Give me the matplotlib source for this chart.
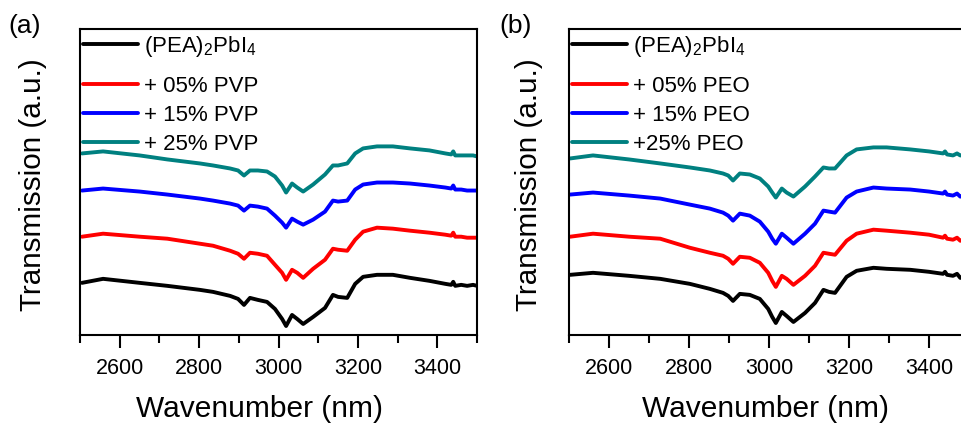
import matplotlib.pyplot as plt
from matplotlib.ticker import MultipleLocator

plt.rcParams['font.family'] = ['Liberation Sans', 'DejaVu Sans']
plt.rcParams['mathtext.default'] = 'regular'

# ---- panel (a): PVP ----
wn_a = [2505, 2558, 2650, 2720, 2802, 2835, 2878, 2898, 2913, 2928, 2948, 2971,
        2991, 3009, 3019, 3034, 3047, 3062, 3087, 3117, 3137, 3150, 3173, 3193,
        3213, 3248, 3288, 3331, 3380, 3420, 3435, 3440, 3445, 3460, 3475, 3490, 3500]
pea_a = [52, 56, 52, 49, 45, 43, 39, 36, 30, 37, 35, 33,
         26, 16, 9, 20, 16, 11, 18, 27, 40, 38, 37, 51,
         58, 60, 60, 57, 54, 51, 50, 53, 49, 50, 49, 50, 49]
pvp05 = [98, 101, 98, 96, 91, 89, 84, 81, 76, 82, 81, 79,
         70, 62, 55, 65, 62, 57, 66, 75, 86, 85, 84, 95,
         103, 107, 106, 104, 102, 100, 99, 102, 98, 98, 97, 97, 97]
pvp15 = [144, 146, 143, 140, 136, 134, 131, 129, 124, 129, 128, 126,
         119, 112, 107, 116, 113, 110, 115, 123, 134, 133, 134, 145,
         150, 152, 152, 151, 149, 147, 146, 149, 145, 145, 144, 144, 144]
pvp25 = [181, 183, 179, 175, 171, 169, 166, 164, 159, 164, 164, 163,
         158, 149, 142, 151, 147, 143, 150, 160, 169, 169, 171, 181,
         186, 188, 188, 186, 184, 181, 180, 183, 179, 179, 179, 179, 178]

# ---- panel (b): PEO ----
wn_b = [2503, 2560, 2650, 2728, 2802, 2852, 2885, 2898, 2910, 2927, 2952, 2977,
        2998, 3008, 3017, 3032, 3044, 3061, 3090, 3115, 3136, 3150, 3165, 3194,
        3219, 3261, 3294, 3353, 3400, 3435, 3440, 3445, 3460, 3470, 3478, 3500]
pea_b = [60, 62, 59, 56, 51, 46, 42, 39, 34, 41, 40, 36,
         26, 18, 12, 23, 19, 13, 22, 32, 45, 43, 42, 58,
         64, 67, 66, 65, 63, 61, 63, 60, 59, 61, 57, 57]
peo05 = [98, 101, 98, 96, 87, 82, 79, 76, 71, 78, 77, 72,
         62, 54, 48, 59, 56, 50, 59, 69, 82, 81, 80, 94,
         101, 105, 104, 102, 100, 97, 99, 96, 95, 97, 94, 94]
peo15 = [140, 142, 139, 136, 130, 126, 122, 119, 114, 121, 119, 113,
         103, 96, 91, 101, 97, 91, 101, 111, 124, 123, 122, 137,
         143, 147, 146, 145, 143, 141, 143, 140, 139, 141, 138, 138]
peo25 = [176, 179, 175, 171, 167, 164, 161, 159, 154, 161, 160, 156,
         148, 142, 137, 146, 142, 138, 148, 158, 167, 166, 166, 179,
         185, 187, 187, 185, 183, 181, 183, 180, 179, 181, 179, 179]

colors = ['black', '#ff0000', '#0000ff', '#008080']
labels_a = [r'$(PEA)_2PbI_4$', '+ 05% PVP', '+ 15% PVP', '+ 25% PVP']
labels_b = [r'$(PEA)_2PbI_4$', '+ 05% PEO', '+ 15% PEO', '+25% PEO']

fig = plt.figure(figsize=(9.62, 4.23), dpi=100)
ax_a = fig.add_axes([0.0832, 0.2080, 0.4127, 0.7234])
ax_b = fig.add_axes([0.5915, 0.2080, 0.4158, 0.7234])

panels = [
    (ax_a, wn_a, [pea_a, pvp05, pvp15, pvp25], labels_a, '(a)', 0.026, -0.083, 0.452),
    (ax_b, wn_b, [pea_b, peo05, peo15, peo25], labels_b, '(b)', 0.536, -0.065, 0.49),
]

leg_kw = dict(frameon=False, fontsize=16, handlelength=2.45, handletextpad=0.3,
              labelspacing=0.36, borderaxespad=0.0, borderpad=0.0)

for ax, wn, series, labels, tag, tag_x, ylab_x, xlab_x in panels:
    lines = []
    for ys, c, lab in zip(series, colors, labels):
        ln, = ax.plot(wn, ys, color=c, lw=2.8, label=lab,
                      solid_joinstyle='round', solid_capstyle='round')
        lines.append(ln)
    ax.set_xlim(2500, 3500)
    ax.set_ylim(0, 305)
    ax.xaxis.set_major_locator(MultipleLocator(200))
    ax.xaxis.set_minor_locator(MultipleLocator(200, offset=100))
    ax.set_yticks([])
    ax.tick_params(axis='x', which='major', length=9.5, width=1.5, labelsize=15.5, pad=7)
    ax.tick_params(axis='x', which='minor', length=6, width=1.5)
    for s in ax.spines.values():
        s.set_linewidth(1.5)
    ax.set_xlabel('Wavenumber (nm)', fontsize=21.5)
    ax.xaxis.set_label_coords(xlab_x, -0.195)
    ax.set_ylabel('Transmission (a.u.)', fontsize=21.3)
    ax.yaxis.set_label_coords(ylab_x, 0.49)
    # first entry (with subscripts) on its own, the rest below it
    leg1 = ax.legend(lines[:1], labels[:1], loc='upper left',
                     bbox_to_anchor=(0.008, 0.985), **leg_kw)
    ax.add_artist(leg1)
    ax.legend(lines[1:], labels[1:], loc='upper left',
              bbox_to_anchor=(0.008, 0.846), **leg_kw)
    fig.text(tag_x, 0.9385, tag, fontsize=19, va='center', ha='center')

fig.savefig('out.png', dpi=100)
